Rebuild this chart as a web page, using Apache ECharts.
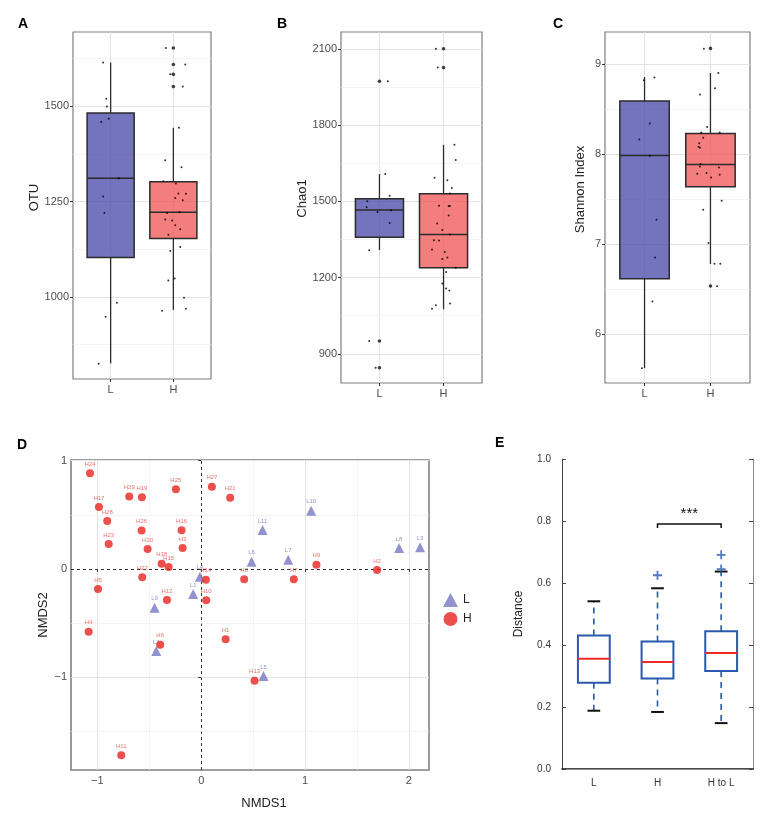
<!DOCTYPE html>
<html>
<head>
<meta charset="utf-8">
<script src="https://cdn.jsdelivr.net/npm/echarts@6/dist/echarts.min.js"></script>
<style>
html,body{margin:0;padding:0;background:#fff;}
#c{width:767px;height:820px;}
</style>
</head>
<body>
<div id="c"></div>
<script>
const FONT = '"Liberation Sans", Arial, Helvetica, sans-serif';
const groups = ['L', 'H'];

// ---- Panel A: OTU (stats: lower whisker, Q1, median, Q3, upper whisker)
const otuStatsL = [826, 1103, 1311, 1482, 1614];
const otuStatsH = [966, 1153, 1222, 1302, 1443];
const otuOutliersL = [];
const otuOutliersH = [1652, 1609, 1583, 1551];
const otuValuesL = [1614, 1519, 1499, 1467, 1458, 1311, 1263, 1220, 985, 948, 825];
const otuJitterL = [-0.12, -0.07, -0.06, -0.03, -0.15, 0.13, -0.12, -0.10, 0.10, -0.08, -0.19];
const otuValuesH = [1652, 1609, 1583, 1551, 1443, 1358, 1340, 1303, 1297, 1271, 1270, 1259, 1253, 1220, 1222, 1203, 1200, 1188, 1177, 1163, 1131, 1120, 1048, 1043, 998, 964, 969];
const otuJitterH = [-0.12, 0.19, -0.05, 0.15, 0.09, -0.13, 0.13, -0.16, 0.04, 0.08, 0.20, 0.03, 0.15, -0.10, 0.10, -0.13, -0.02, 0.03, 0.11, -0.08, 0.11, -0.05, 0.02, -0.08, 0.17, -0.18, 0.20];
const otuTicks = [1000, 1250, 1500];

// ---- Panel B: Chao1
const chaoStatsL = [1308, 1358, 1466, 1510, 1607];
const chaoStatsH = [1075, 1238, 1369, 1530, 1722];
const chaoOutliersL = [1972, 950, 845];
const chaoOutliersH = [2100, 2026];
const chaoValuesL = [1972, 1500, 1476, 1458, 1465, 1415, 1522, 1607, 1307, 950, 845];
const chaoJitterL = [0.13, -0.19, -0.20, -0.03, 0.18, 0.16, 0.16, 0.09, -0.16, -0.16, -0.06];
const chaoValuesH = [2100, 2026, 1722, 1662, 1593, 1583, 1552, 1531, 1482, 1481, 1481, 1444, 1413, 1387, 1369, 1347, 1346, 1310, 1300, 1279, 1273, 1238, 1222, 1176, 1157, 1149, 1098, 1091, 1077];
const chaoJitterH = [-0.12, -0.09, 0.17, 0.19, -0.14, 0.06, 0.13, 0.10, -0.07, 0.08, 0.10, 0.08, -0.10, -0.02, 0.10, -0.15, -0.07, -0.18, 0.02, 0.06, -0.02, 0.19, 0.04, -0.02, 0.04, 0.09, 0.10, -0.12, -0.18];
const chaoTicks = [900, 1200, 1500, 1800, 2100];

// ---- Panel C: Shannon Index
const shanStatsL = [5.62, 6.614, 7.983, 8.588, 8.855];
const shanStatsH = [6.777, 7.635, 7.883, 8.228, 8.90];
const shanOutliersL = [];
const shanOutliersH = [9.174, 6.533];
const shanValuesL = [8.82, 8.85, 8.34, 8.16, 7.98, 7.27, 6.85, 6.36, 5.62];
const shanJitterL = [-0.01, 0.15, 0.08, -0.08, 0.08, 0.18, 0.16, 0.12, -0.04];
const shanValuesH = [9.17, 8.90, 8.73, 8.66, 8.30, 8.24, 8.24, 8.18, 8.12, 8.08, 8.07, 7.89, 7.86, 7.85, 7.78, 7.79, 7.77, 7.74, 7.48, 7.38, 7.01, 6.78, 6.78, 6.53];
const shanJitterH = [-0.10, 0.12, 0.07, -0.16, -0.05, -0.14, 0.14, -0.11, -0.17, -0.18, -0.16, -0.15, -0.16, 0.13, -0.20, -0.06, 0.14, 0.01, 0.17, -0.11, -0.03, 0.06, 0.15, 0.10];
const shanTicks = [6, 7, 8, 9];

// ---- Panel D: NMDS
const hNames = ['H24','H29','H19','H25','H27','H21','H17','H28','H26','H16','H23','H20','H3','H18','H15','H22','H5','H12','H14','H10','H4','H9','H2','H8','H7','H1','H6','H13','H11'];
const hX = [-1.071,-0.693,-0.571,-0.244,0.103,0.279,-0.985,-0.905,-0.574,-0.189,-0.891,-0.516,-0.179,-0.381,-0.314,-0.568,-0.994,-0.330,0.045,0.048,-1.084,1.110,1.694,0.414,0.892,0.235,-0.395,0.514,-0.770];
const hY = [0.884,0.668,0.662,0.736,0.760,0.658,0.572,0.443,0.354,0.357,0.231,0.185,0.194,0.049,0.018,-0.077,-0.185,-0.286,-0.099,-0.289,-0.579,0.040,-0.009,-0.095,-0.095,-0.649,-0.699,-1.031,-1.720];
const lNames = ['L10','L11','L6','L7','L8','L3','L4','L1','L9','L2','L5'];
const lX = [1.059,0.591,0.485,0.838,1.906,2.108,-0.013,-0.077,-0.449,-0.433,0.600];
const lY = [0.538,0.360,0.067,0.086,0.194,0.200,-0.071,-0.231,-0.357,-0.757,-0.988];
const ordTicksX = [-1, 0, 1, 2];
const ordTicksY = [-1, 0, 1];

// ---- Panel E: Distance
const distCats = ['L', 'H', 'H to L'];
const distStats = [
  [0.188, 0.278, 0.356, 0.431, 0.541],
  [0.184, 0.292, 0.345, 0.411, 0.583],
  [0.148, 0.316, 0.374, 0.444, 0.637]
];
const distOutlierGroups = ['H', 'H to L', 'H to L'];
const distOutlierValues = [0.625, 0.645, 0.691];
const sigPair = ['H', 'H to L'];
const sigLevel = 0.79;
const sigLabel = '***';

// ---------------- helpers ----------------
const BLUE_FILL = 'rgba(66,68,166,0.74)';
const RED_FILL = 'rgba(240,80,80,0.74)';
const GRID_MAJOR = {color: '#e3e3e3', width: 1.1, type: 'solid'};
const GRID_MINOR = {color: '#efefef', width: 0.7, type: 'solid'};

function minorOf(ticks, min, max) {
  const step = ticks[1] - ticks[0];
  return ticks.map(t => t - step / 2).concat([ticks[ticks.length - 1] + step / 2])
    .filter(v => v > min && v < max);
}

function gridLineSeries(idx, lines) {
  return {
    type: 'scatter', xAxisIndex: idx, yAxisIndex: idx, data: [], silent: true, z: 0, zlevel: 0,
    markLine: {silent: true, z: 0, symbol: ['none', 'none'], label: {show: false}, animation: false, data: lines}
  };
}

function ggBoxRender(fills) {
  return function (params, api) {
    const x = api.value(0);
    const lo = api.value(1), q1 = api.value(2), md = api.value(3), q3 = api.value(4), hi = api.value(5);
    const w = api.size([0.75, 0])[0];
    const pLo = api.coord([x, lo]), pQ1 = api.coord([x, q1]), pMd = api.coord([x, md]);
    const pQ3 = api.coord([x, q3]), pHi = api.coord([x, hi]);
    const cx = pMd[0];
    const stroke = '#2b2b2b';
    return {
      type: 'group',
      children: [
        {type: 'line', shape: {x1: cx, y1: pHi[1], x2: cx, y2: pQ3[1]}, style: {stroke: stroke, lineWidth: 1.3}},
        {type: 'line', shape: {x1: cx, y1: pQ1[1], x2: cx, y2: pLo[1]}, style: {stroke: stroke, lineWidth: 1.3}},
        {type: 'rect', shape: {x: cx - w / 2, y: pQ3[1], width: w, height: pQ1[1] - pQ3[1]},
          style: {fill: fills[params.dataIndex], stroke: stroke, lineWidth: 1.5}},
        {type: 'line', shape: {x1: cx - w / 2, y1: pMd[1], x2: cx + w / 2, y2: pMd[1]}, style: {stroke: stroke, lineWidth: 1.5}}
      ]
    };
  };
}

function boxPanel(i, cfg) {
  const xAxis = {
    gridIndex: i, type: 'value', min: 0.4, max: 2.6,
    axisLine: {show: false}, splitLine: {show: false},
    axisTick: {show: true, customValues: [1, 2], length: 3, lineStyle: {color: '#333', width: 1}},
    axisLabel: {customValues: [1, 2], formatter: v => groups[Math.round(v) - 1], color: '#4d4d4d', fontSize: 11, margin: 5, fontFamily: FONT}
  };
  const yAxis = {
    gridIndex: i, type: 'value', min: cfg.min, max: cfg.max,
    axisLine: {show: false}, splitLine: {show: false},
    axisTick: {show: true, customValues: cfg.ticks, length: 3, lineStyle: {color: '#333', width: 1}},
    axisLabel: {customValues: cfg.ticks, formatter: v => String(v), color: '#4d4d4d', fontSize: 11, margin: 4, fontFamily: FONT},
    name: cfg.name, nameLocation: 'middle', nameGap: cfg.nameGap,
    nameTextStyle: {fontSize: 13, color: '#222', fontFamily: FONT, padding: cfg.namePad || 0}
  };
  const lines = [];
  [1, 2].forEach(v => lines.push({xAxis: v, lineStyle: GRID_MAJOR}));
  cfg.ticks.forEach(v => lines.push({yAxis: v, lineStyle: GRID_MAJOR}));
  minorOf(cfg.ticks, cfg.min, cfg.max).forEach(v => lines.push({yAxis: v, lineStyle: GRID_MINOR}));
  const series = [
    gridLineSeries(i, lines),
    {
      type: 'custom', xAxisIndex: i, yAxisIndex: i, z: 10,
      renderItem: ggBoxRender([BLUE_FILL, RED_FILL]),
      encode: {x: 0, y: [1, 2, 3, 4, 5]},
      data: [[1].concat(cfg.statsL), [2].concat(cfg.statsH)]
    },
    {
      type: 'scatter', xAxisIndex: i, yAxisIndex: i, z: 11, silent: true,
      symbolSize: 3.6, itemStyle: {color: '#111'},
      data: cfg.outL.map(v => [1, v]).concat(cfg.outH.map(v => [2, v]))
    },
    {
      type: 'scatter', xAxisIndex: i, yAxisIndex: i, z: 12, silent: true,
      symbolSize: 2, itemStyle: {color: '#000'},
      data: cfg.valL.map((v, k) => [1 + cfg.jitL[k], v]).concat(cfg.valH.map((v, k) => [2 + cfg.jitH[k], v]))
    }
  ];
  return {xAxis, yAxis, series};
}

const pA = boxPanel(0, {statsL: otuStatsL, statsH: otuStatsH, outL: otuOutliersL, outH: otuOutliersH,
  valL: otuValuesL, jitL: otuJitterL, valH: otuValuesH, jitH: otuJitterH, ticks: otuTicks,
  min: 785, max: 1694, name: 'OTU', nameGap: 27, namePad: [0, 0, 0, 16]});
const pB = boxPanel(1, {statsL: chaoStatsL, statsH: chaoStatsH, outL: chaoOutliersL, outH: chaoOutliersH,
  valL: chaoValuesL, jitL: chaoJitterL, valH: chaoValuesH, jitH: chaoJitterH, ticks: chaoTicks,
  min: 785, max: 2166, name: 'Chao1', nameGap: 25, namePad: [0, 0, 0, 18]});
const pC = boxPanel(2, {statsL: shanStatsL, statsH: shanStatsH, outL: shanOutliersL, outH: shanOutliersH,
  valL: shanValuesL, jitL: shanJitterL, valH: shanValuesH, jitH: shanJitterH, ticks: shanTicks,
  min: 5.455, max: 9.356, name: 'Shannon Index', nameGap: 18, namePad: [0, 0, 0, 36]});

// ---- Panel D axes & series
const ordXMin = -1.254, ordXMax = 2.194, ordYMin = -1.856, ordYMax = 1.006;
const minusFmt = v => (v < 0 ? '\u2212' + Math.abs(v) : String(v));
const ZERO_LINE = {color: '#333', width: 1, type: [3, 3]};
const dLines = [];
ordTicksX.forEach(v => dLines.push({xAxis: v, lineStyle: v === 0 ? ZERO_LINE : GRID_MAJOR}));
minorOf(ordTicksX, ordXMin, ordXMax).forEach(v => dLines.push({xAxis: v, lineStyle: GRID_MINOR}));
ordTicksY.forEach(v => dLines.push({yAxis: v, lineStyle: v === 0 ? ZERO_LINE : GRID_MAJOR}));
minorOf(ordTicksY, ordYMin, ordYMax).forEach(v => dLines.push({yAxis: v, lineStyle: GRID_MINOR}));

const RED = '#e8231f';
const LAV = '#7577c2';

// ---- Panel E renderers
const E_BLUE = '#2a58b0';
function distRender(params, api) {
  const c = api.value(0);
  const lo = api.value(1), q1 = api.value(2), md = api.value(3), q3 = api.value(4), hi = api.value(5);
  const band = api.size([1, 0])[0];
  const hw = band * 0.25, cw = band * 0.1;
  const pLo = api.coord([c, lo]), pQ1 = api.coord([c, q1]), pMd = api.coord([c, md]);
  const pQ3 = api.coord([c, q3]), pHi = api.coord([c, hi]);
  const cx = pMd[0];
  return {
    type: 'group',
    children: [
      {type: 'line', shape: {x1: cx, y1: pQ3[1], x2: cx, y2: pHi[1]}, style: {stroke: E_BLUE, lineWidth: 1.6, lineDash: [6, 5]}},
      {type: 'line', shape: {x1: cx, y1: pQ1[1], x2: cx, y2: pLo[1]}, style: {stroke: E_BLUE, lineWidth: 1.6, lineDash: [6, 5]}},
      {type: 'line', shape: {x1: cx - cw, y1: pHi[1], x2: cx + cw, y2: pHi[1]}, style: {stroke: '#111', lineWidth: 2}},
      {type: 'line', shape: {x1: cx - cw, y1: pLo[1], x2: cx + cw, y2: pLo[1]}, style: {stroke: '#111', lineWidth: 2}},
      {type: 'rect', shape: {x: cx - hw, y: pQ3[1], width: 2 * hw, height: pQ1[1] - pQ3[1]}, style: {fill: 'none', stroke: E_BLUE, lineWidth: 2}},
      {type: 'line', shape: {x1: cx - hw, y1: pMd[1], x2: cx + hw, y2: pMd[1]}, style: {stroke: '#f02a2a', lineWidth: 2}}
    ]
  };
}
function sigRender(params, api) {
  const a = api.coord([api.value(0), api.value(2)]);
  const b = api.coord([api.value(1), api.value(2)]);
  return {
    type: 'group',
    children: [
      {type: 'polyline', shape: {points: [[a[0], a[1] + 4], [a[0], a[1]], [b[0], b[1]], [b[0], b[1] + 4]]},
        style: {stroke: '#111', lineWidth: 1.5, fill: 'none'}},
      {type: 'text', x: (a[0] + b[0]) / 2, y: a[1] - 3,
        style: {text: sigLabel, fill: '#111', font: '15px ' + FONT, textAlign: 'center', textVerticalAlign: 'bottom'}}
    ]
  };
}
const PLUS = 'path://M4,0H6V4H10V6H6V10H4V6H0V4H4Z';

const option = {
  animation: false,
  backgroundColor: '#fff',
  textStyle: {fontFamily: FONT},
  title: [
    {text: 'A', left: 18, top: 17},
    {text: 'B', left: 277, top: 17},
    {text: 'C', left: 553, top: 17},
    {text: 'D', left: 17, top: 438},
    {text: 'E', left: 495, top: 436}
  ].map(t => Object.assign(t, {padding: 0, textStyle: {fontSize: 14, fontWeight: 'bold', color: '#000', fontFamily: FONT}})),
  legend: {
    data: [{name: 'L', icon: 'triangle'}, {name: 'H', icon: 'circle'}],
    orient: 'vertical', left: 438, top: 588, itemWidth: 15, itemHeight: 14, itemGap: 5,
    selectedMode: false, textStyle: {fontSize: 12, color: '#222', fontFamily: FONT}
  },
  grid: [
    {left: 73, top: 32, width: 138, height: 347, show: true, borderColor: '#7f7f7f', borderWidth: 1.2},
    {left: 341, top: 32, width: 141, height: 351, show: true, borderColor: '#7f7f7f', borderWidth: 1.2},
    {left: 605, top: 32, width: 145, height: 351, show: true, borderColor: '#7f7f7f', borderWidth: 1.2},
    {left: 71, top: 460, width: 358, height: 310, show: true, borderColor: '#808080', borderWidth: 1.6},
    {left: 562, top: 459, width: 191, height: 310}
  ],
  xAxis: [
    pA.xAxis, pB.xAxis, pC.xAxis,
    {
      gridIndex: 3, type: 'value', min: ordXMin, max: ordXMax,
      axisLine: {show: false}, splitLine: {show: false},
      axisTick: {show: true, customValues: ordTicksX, length: 3, lineStyle: {color: '#333'}},
      axisLabel: {customValues: ordTicksX, formatter: minusFmt, color: '#4d4d4d', fontSize: 11, margin: 5, fontFamily: FONT},
      name: 'NMDS1', nameLocation: 'middle', nameGap: 27,
      nameTextStyle: {fontSize: 13, color: '#222', fontFamily: FONT, padding: [0, 0, 0, 28]}
    },
    {
      gridIndex: 4, type: 'category', data: distCats, boundaryGap: true,
      axisLine: {lineStyle: {color: '#111', width: 1.5}},
      axisTick: {inside: true, alignWithLabel: true, length: 4, lineStyle: {color: '#111'}},
      axisLabel: {fontSize: 10, color: '#333', margin: 9, fontFamily: FONT},
      splitLine: {show: false}
    },
    {
      gridIndex: 4, type: 'category', data: distCats, boundaryGap: true, position: 'top',
      axisLine: {lineStyle: {color: '#888', width: 1}},
      axisTick: {inside: true, alignWithLabel: true, length: 4, lineStyle: {color: '#222'}},
      axisLabel: {show: false}, splitLine: {show: false}
    }
  ],
  yAxis: [
    pA.yAxis, pB.yAxis, pC.yAxis,
    {
      gridIndex: 3, type: 'value', min: ordYMin, max: ordYMax,
      axisLine: {show: false}, splitLine: {show: false},
      axisTick: {show: true, customValues: ordTicksY, length: 3, lineStyle: {color: '#333'}},
      axisLabel: {customValues: ordTicksY, formatter: minusFmt, color: '#4d4d4d', fontSize: 11, margin: 4, fontFamily: FONT},
      name: 'NMDS2', nameLocation: 'middle', nameGap: 21,
      nameTextStyle: {fontSize: 13, color: '#222', fontFamily: FONT}
    },
    {
      gridIndex: 4, type: 'value', min: 0, max: 1, interval: 0.2,
      axisLine: {show: true, lineStyle: {color: '#444', width: 1}},
      axisTick: {show: true, inside: true, length: 4, lineStyle: {color: '#444'}},
      axisLabel: {formatter: v => v.toFixed(1), fontSize: 10, color: '#333', margin: 11, fontFamily: FONT},
      splitLine: {show: false},
      name: 'Distance', nameLocation: 'middle', nameGap: 37,
      nameTextStyle: {fontSize: 12, color: '#222', fontFamily: FONT}
    },
    {
      gridIndex: 4, type: 'value', min: 0, max: 1, interval: 0.2, position: 'right',
      axisLine: {show: true, lineStyle: {color: '#888', width: 1}},
      axisTick: {show: true, inside: true, length: 4, lineStyle: {color: '#444'}},
      axisLabel: {show: false}, splitLine: {show: false}
    }
  ],
  series: [
    ...pA.series, ...pB.series, ...pC.series,
    gridLineSeries(3, dLines),
    {
      name: 'L', type: 'scatter', xAxisIndex: 3, yAxisIndex: 3, z: 10,
      symbol: 'triangle', symbolSize: 10, itemStyle: {color: LAV},
      label: {show: true, position: 'top', distance: 1, formatter: '{b}', fontSize: 6, color: LAV, fontFamily: FONT},
      data: lNames.map((n, k) => ({name: n, value: [lX[k], lY[k]]}))
    },
    {
      name: 'H', type: 'scatter', xAxisIndex: 3, yAxisIndex: 3, z: 11,
      symbol: 'circle', symbolSize: 8, itemStyle: {color: RED},
      label: {show: true, position: 'top', distance: 2, formatter: '{b}', fontSize: 6, color: '#e5504a', fontFamily: FONT},
      data: hNames.map((n, k) => ({name: n, value: [hX[k], hY[k]]}))
    },
    {
      type: 'custom', xAxisIndex: 4, yAxisIndex: 4, z: 2,
      renderItem: distRender, encode: {x: 0, y: [1, 2, 3, 4, 5]},
      data: distStats.map((s, i) => [i].concat(s))
    },
    {
      type: 'scatter', xAxisIndex: 4, yAxisIndex: 4, z: 3, silent: true,
      symbol: PLUS, symbolSize: 9, itemStyle: {color: E_BLUE},
      data: distOutlierGroups.map((g, k) => [distCats.indexOf(g), distOutlierValues[k]])
    },
    {
      type: 'custom', xAxisIndex: 4, yAxisIndex: 4, z: 3,
      renderItem: sigRender, encode: {x: [0, 1], y: 2},
      data: [[distCats.indexOf(sigPair[0]), distCats.indexOf(sigPair[1]), sigLevel]]
    }
  ]
};

const chart = echarts.init(document.getElementById('c'), null, {renderer: 'canvas'});
chart.setOption(option);
</script>
</body>
</html>
